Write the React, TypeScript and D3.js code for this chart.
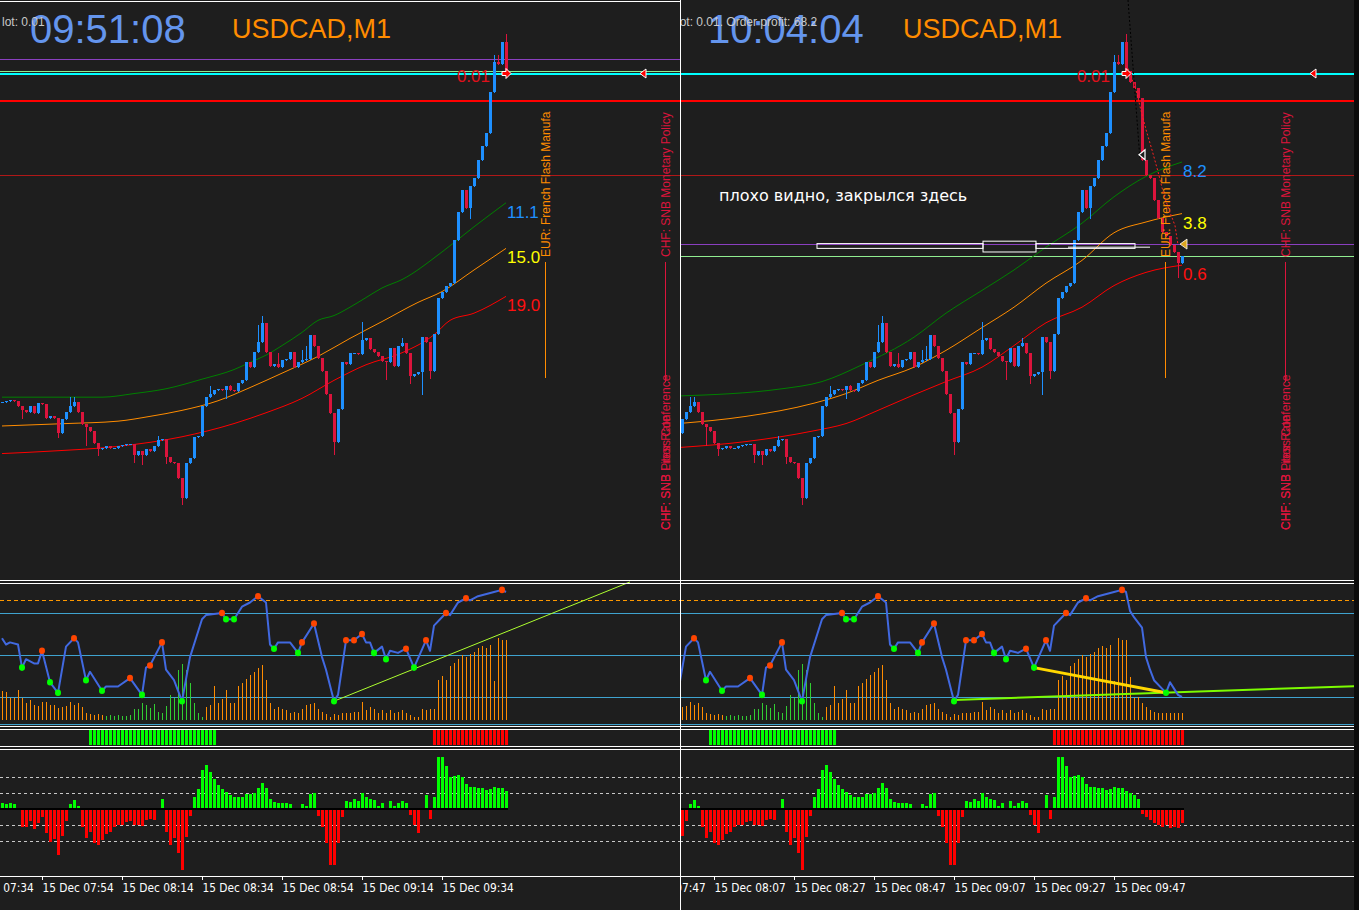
import React from "react";
import * as d3 from "d3";

// ---------------- DATA ----------------
// USDCAD M1 closes, bar 0 = 15 Dec 07:44
const closes: number[] = [
  1.35965, 1.35966, 1.35967, 1.35966, 1.35962, 1.35958, 1.35957, 1.35962, 1.35956, 1.35964,
  1.35963, 1.35952, 1.35953, 1.35952, 1.35939, 1.35951, 1.35957, 1.35962, 1.35965, 1.35957,
  1.35947, 1.35944, 1.35941, 1.35931, 1.35926, 1.35927, 1.35928, 1.35927, 1.35927, 1.35928,
  1.35929, 1.3593, 1.3593, 1.35921, 1.35924, 1.35921, 1.35926, 1.35924, 1.35928, 1.35933,
  1.35934, 1.35919, 1.35915, 1.35914, 1.35902, 1.35885, 1.35914, 1.35918, 1.35936, 1.35937,
  1.35962, 1.35969, 1.35972, 1.35975, 1.35976, 1.35975, 1.35978, 1.35975, 1.35974, 1.35981,
  1.35983, 1.35998, 1.35994, 1.36007, 1.36015, 1.36031, 1.36007, 1.35995, 1.35997, 1.35994,
  1.36, 1.36001, 1.36007, 1.35994, 1.35998, 1.36, 1.36001, 1.36021, 1.36012, 1.36002,
  1.35991, 1.35972, 1.35956, 1.35932, 1.35959, 1.35998, 1.35997, 1.36006, 1.36006, 1.36005,
  1.36017, 1.36018, 1.36009, 1.36007, 1.36003, 1.35999, 1.35998, 1.3601, 1.35995, 1.36012,
  1.36014, 1.36006, 1.35987, 1.35988, 1.3599, 1.36019, 1.36015, 1.35991, 1.36022, 1.36052,
  1.36057, 1.36062, 1.36064, 1.361, 1.36123, 1.36142, 1.36127, 1.36145, 1.36152, 1.36167,
  1.36178, 1.36189, 1.36223, 1.36248, 1.36247, 1.36265, 1.36241, 1.36232, 1.36227, 1.36218,
  1.36167, 1.36154, 1.36152, 1.36133, 1.36118, 1.36107, 1.36103, 1.36096, 1.3609, 1.36081,
  1.36087,
];
const wickHighs: [number, number][] = [
  [17, 1.35969], [18, 1.35969], [39, 1.35937], [52, 1.35978], [64, 1.36029], [65, 1.36037],
  [69, 1.36006], [75, 1.36008], [76, 1.36012], [90, 1.36032], [123, 1.36254], [124, 1.36254],
  [126, 1.36272], [8, 1.35962], [57, 1.35979], [100, 1.36018],
];
const wickLows: [number, number][] = [
  [5, 1.35952], [14, 1.35936], [21, 1.35929], [33, 1.35915], [35, 1.35913], [41, 1.35914],
  [45, 1.3588], [56, 1.35968], [83, 1.35922], [96, 1.35984], [105, 1.35972], [107, 1.35985],
  [117, 1.36118], [139, 1.36069], [24, 1.35921], [102, 1.35981],
];

// Moving averages [bar, price] as shown in each snapshot
const leftGreenMA: [number, number][] = [[0, 1.35969], [25, 1.35969], [33, 1.35972], [41, 1.35976], [50, 1.35984], [58, 1.35992], [62, 1.35998], [66, 1.36004], [70, 1.36012], [75, 1.36023], [79, 1.36033], [83, 1.36037], [87, 1.36044], [91, 1.36052], [95, 1.3606], [100, 1.36067], [110, 1.3609], [118, 1.36111], [126, 1.36131]];
const leftOrangeMA: [number, number][] = [[0, 1.35945], [16, 1.35947], [29, 1.35949], [37, 1.35953], [45, 1.35958], [54, 1.35966], [62, 1.35977], [70, 1.35989], [79, 1.36003], [87, 1.36018], [95, 1.36032], [104, 1.36048], [110, 1.36057], [118, 1.36075], [126, 1.36093]];
const leftRedMA: [number, number][] = [[0, 1.35922], [12, 1.35924], [29, 1.35928], [45, 1.35936], [58, 1.35947], [66, 1.35956], [75, 1.35968], [83, 1.35983], [91, 1.35996], [100, 1.36006], [108, 1.36021], [112, 1.36033], [118, 1.36039], [126, 1.36053]];
const rightGreenMA: [number, number][] = [[14, 1.3597], [40, 1.35976], [50, 1.35982], [60, 1.35996], [73, 1.36019], [81, 1.36039], [90, 1.36058], [98, 1.36075], [106, 1.36094], [115, 1.36114], [123, 1.36136], [131, 1.36153], [140, 1.36165]];
const rightOrangeMA: [number, number][] = [[14, 1.35947], [31, 1.35953], [48, 1.35964], [56, 1.35972], [64, 1.35983], [73, 1.35994], [81, 1.36008], [90, 1.36027], [98, 1.36044], [106, 1.36064], [115, 1.36083], [123, 1.36106], [131, 1.36115], [140, 1.36122]];
const rightRedMA: [number, number][] = [[14, 1.35927], [31, 1.35932], [48, 1.35941], [56, 1.35947], [64, 1.35958], [73, 1.35971], [81, 1.35982], [90, 1.35994], [98, 1.36012], [106, 1.36031], [115, 1.36044], [123, 1.36062], [131, 1.36073], [140, 1.36079]];
const leftMALabels = ["11.1", "15.0", "19.0"];
const rightMALabels = ["8.2", "3.8", "0.6"];

// horizontal levels
const orderPrice = 1.36239;
const stopLine = 1.36217;
const thinRedLine = 1.36154;
const spread = 0.0001;

// oscillator line [bar, value]
const oscLine: [number, number][] = [
  [0, 58], [1, 55], [2, 56], [4, 55], [5, 44], [6, 48], [8, 46], [9, 46], [10, 52], [12, 37], [14, 32],
  [16, 54], [18, 58], [19, 56], [21, 38], [22, 42], [25, 33], [26, 35], [29, 35], [32, 39], [35, 31],
  [36, 44], [37, 45], [40, 56], [41, 43], [43, 38], [45, 28], [47, 49], [50, 67], [51, 69], [55, 70],
  [56, 67], [58, 67], [60, 73], [62, 75], [64, 78], [66, 75], [67, 55], [68, 53], [69, 56], [72, 56],
  [74, 51], [75, 56], [78, 65], [80, 49], [81, 43], [83, 28], [84, 31], [86, 57], [88, 57], [90, 60],
  [91, 56], [92, 56], [93, 51], [95, 54], [96, 48], [97, 52], [99, 51], [101, 53], [103, 44], [106, 57],
  [107, 52], [108, 64], [111, 70], [112, 69], [114, 75], [116, 77], [117, 76], [119, 78], [123, 80],
  [125, 81], [126, 80], [127, 71], [128, 68], [130, 63], [131, 49], [132, 43], [133, 38], [135, 34],
  [136, 32], [137, 37], [138, 34], [139, 31], [140, 30],
];
const oscPeaks = [10, 18, 32, 37, 40, 55, 64, 75, 78, 86, 88, 90, 101, 106, 111, 116, 125];
const oscTroughs = [5, 12, 14, 21, 25, 35, 45, 56, 58, 68, 74, 83, 93, 96, 103, 136];
const oscHist: number[] = [
  29, 28, 22, 22, 30,
  22, 17, 20, 15, 14, 18, 18, 15, 15, 12, 13, 14, 18, 15, 17, 13,
  7, 6, 5, 6, 5, 4, 5, 4, 5, 4, 4, 5,
  11, 11, 17, 15, 12, 16, 8, 7, 14, 25, 22, 50, 56, 50, 37, 17, 7, 3,
  13, 15, 34, 17, 21, 30, 17, 17, 34, 37, 41, 45, 48, 52, 55, 40,
  17, 11, 13, 11, 10, 7, 8, 7, 11, 15, 16, 17, 11, 8, 6, 3, 6, 5, 7, 7, 7, 8, 8, 18, 10, 13, 11, 7, 10, 7, 10, 7, 8, 10, 7, 5, 3, 3, 11, 10, 11, 11,
  40, 44, 40, 54, 57, 61, 65, 63, 66, 68, 72, 74, 72, 75, 39, 82, 80, 80,
  43, 22, 23, 17, 13, 10, 8, 7, 7, 7, 7, 7, 7, 7,
];
const oscHistGreenRange = [26, 50];
const leftTrend: [number, number][] = [[83, 28], [157, 84.8]];
const rightTrend: [number, number][] = [[83, 28.6], [184, 35.2]];
const rightDivergence: [number, number][] = [[103, 44], [136, 32]];

// trend strip
const stripGreen = [22, 53];
const stripRed = [108, 140];

// lower histogram
const deltaHist: number[] = [
  0.4, 0.3, 0.4, 0.3, 0,
  -1.1, -1.1, -0.75, -1.25, -0.9, -0.5, -1.5, -2.05, -1.9, -2.9, -1.7, -0.75,
  0.3, 0.55, 0.2,
  -1.1, -1.8, -1.45, -2.1, -2.25, -1.95, -1.55, -1.45, -1.1, -1, -1, -0.8, -0.75, -1, -1, -1.05, -0.7, -0.6, -0.7,
  0, 0.6,
  -1.45, -2.25, -1.8, -2.75, -3.8, -1.75, -0.45,
  0.75, 1.25, 2.45, 2.75, 2.3, 1.9, 1.5, 1.25, 1.05, 0.9, 0.75, 0.75, 0.75, 0.95, 0.95, 1, 1.3, 1.6, 1.3, 0.6, 0.45, 0.4, 0.4, 0.4, 0.3, 0.05, 0.05, 0.3, 0.2, 0.95, 1,
  -0.45, -1.1, -2.1, -3.5, -3.5, -2.1, -0.5,
  0.5, 0.45, 0.6, 0.5, 1, 0.75, 0.6, 0.55, 0.2, 0.4,
  0, 0.5, 0.2, 0.4, 0.5, 0.4,
  -0.4, -1, -1.5, 0, 0.9, -0.6,
  0.75, 3.25, 3.25, 2.7, 2, 2.05, 2.1, 2, 1.55, 1.4, 1.4, 1.3, 1.3, 1.2, 1.25, 1.4, 1.3, 1.3, 1.1,
  1.0, 0.9, 0.6, -0.3, -0.5, -0.7, -0.9, -1.0, -1.1, -1.0, -1.2, -1.1, -1.2, -0.9,
];

// time axis
const leftTickBars = [-10, 10, 30, 50, 70, 90, 110];
const leftTickLabels = ["15 Dec 07:34", "15 Dec 07:54", "15 Dec 08:14", "15 Dec 08:34", "15 Dec 08:54", "15 Dec 09:14", "15 Dec 09:34"];
const rightTickBars = [3, 23, 43, 63, 83, 103, 123];
const rightTickLabels = ["15 Dec 07:47", "15 Dec 08:07", "15 Dec 08:27", "15 Dec 08:47", "15 Dec 09:07", "15 Dec 09:27", "15 Dec 09:47"];

// news events
const eventBars = [136, 166];
const eventTitles = ["EUR: French Flash Manufa", "CHF: SNB Monetary Policy"];
const eventLowerTitles = ["CHF: SNB Press Conference", "CHF: SNB Libor Rate"];

// right snapshot annotations
const tmaDotted: [number, number][] = [[126.5, 1.36243], [128.5, 1.36225], [129.75, 1.36208], [131, 1.36192], [132.5, 1.36175], [134, 1.36157], [135.5, 1.36137], [137, 1.36123], [138.25, 1.36112], [139, 1.36096]];
const blackDotted: [number, number][] = [[126.5, 1.363], [129.5, 1.36167]];
const closeMarker: [number, number] = [130, 1.36171];
const closedBoxes: [number, number, number, number][] = [[48.75, 90.25, 1.36097, 1.36093], [90.25, 103.5, 1.36099, 1.3609], [103.5, 128.25, 1.36097, 1.36093]];
const closedLine: [number, number][] = [[111.5, 1.36094], [132, 1.36094]];
const noteText = "плохо видно, закрылся здесь";
const notePos: [number, number] = [24.25, 1.361325];

// ---------------- STYLE ----------------
const BG = "#1e1e1e";
const UP = "#1e90ff";
const DOWN = "#dc143c";
const ARIAL = "'Liberation Sans', Arial, sans-serif";
const COND = "'DejaVu Sans Condensed', 'DejaVu Sans', sans-serif";

const priceY = d3.scaleLinear().domain([1.358183, 1.363]).range([578, 0]);
const oscY = d3.scaleLinear().domain([0, 100]).range([760, 550]);
const oscHistY = d3.scaleLinear().domain([0, 100]).range([720, 620]);
const deltaY = d3.scaleLinear().domain([-4, 4]).range([873, 745]);

type Panel = {
  key: string; x0: number; width: number; first: number; last: number;
  clock: string; clockX: number; info: string; infoX: number; titleX: number;
  green: [number, number][]; orange: [number, number][]; red: [number, number][];
  maLabels: string[]; ticks: number[]; tickLabels: string[]; markerX: number;
  isRight: boolean;
};

const panels: Panel[] = [
  { key: "L", x0: 0, width: 680, first: 0, last: 126, clock: "09:51:08", clockX: 30, info: "lot: 0.01", infoX: 2, titleX: 232,
    green: leftGreenMA, orange: leftOrangeMA, red: leftRedMA, maLabels: leftMALabels, ticks: leftTickBars, tickLabels: leftTickLabels, markerX: 643, isRight: false },
  { key: "R", x0: 680, width: 674, first: 15, last: 140, clock: "10:04:04", clockX: 708, info: "lot: 0.01. Order profit: 68.2", infoX: 677, titleX: 903,
    green: rightGreenMA, orange: rightOrangeMA, red: rightRedMA, maLabels: rightMALabels, ticks: rightTickBars, tickLabels: rightTickLabels, markerX: 1313, isRight: true },
];

function renderPanel(p: Panel) {
  const xs = d3.scaleLinear().domain([p.first, p.first + 1]).range([p.x0 + 2, p.x0 + 6]);
  const bars = d3.range(p.first, p.last + 1);
  const px = (i: number) => Math.round(xs(i));
  const hiMap = new Map(wickHighs);
  const loMap = new Map(wickLows);
  const maLine = d3.line<[number, number]>().x((d) => xs(d[0])).y((d) => priceY(d[1])).curve(d3.curveMonotoneX);
  const plainLine = d3.line<[number, number]>().x((d) => xs(d[0])).y((d) => priceY(d[1]));
  const oscPath = d3.line<[number, number]>().x((d) => xs(d[0])).y((d) => oscY(d[1]));
  const oscMap = new Map(oscLine);
  const visOsc = oscLine.filter((d) => d[0] >= p.first - 1 && d[0] <= p.last);
  const bid = closes[p.last];
  const clipId = `clip${p.key}`;
  const lastX = px(p.last);
  const mas = [p.green, p.orange, p.red];
  const maColors = ["#008000", "#ff8c00", "#ff0000"];
  const maLabelColors = ["#1e90ff", "#ffff00", "#ff1010"];
  const horiz = (price: number, color: string, w: number) => (
    <line x1={p.x0} x2={p.x0 + p.width} y1={Math.round(priceY(price)) + 0.5} y2={Math.round(priceY(price)) + 0.5} stroke={color} strokeWidth={w} />
  );
  const orderX = px(126);
  const orderY = Math.round(priceY(orderPrice)) + 0.5;

  return (
    <g key={p.key} clipPath={`url(#${clipId})`}>
      <defs>
        <clipPath id={clipId}>
          <rect x={p.x0 + (p.isRight ? 1 : 0)} y={0} width={p.width - (p.isRight ? 1 : 0)} height={910} />
        </clipPath>
      </defs>
      {/* header */}
      <text x={p.clockX} y={43} fontFamily={ARIAL} fontSize={40} fill="#6495ed">{p.clock}</text>
      <text x={p.titleX} y={38} fontFamily={ARIAL} fontSize={27} fill="#ff8c00">USDCAD,M1</text>
      <text x={p.infoX} y={26} fontFamily={ARIAL} fontSize={12} fill="#c8c8c8">{p.info}</text>

      {/* horizontal levels */}
      <g shapeRendering="crispEdges">
        {horiz(thinRedLine, "#b01818", 1)}
        {horiz(stopLine, "#ff0000", 2)}
        {horiz(bid + spread, "#8a3fbf", 1)}
        {horiz(orderPrice, "#00ffff", 2)}
        {horiz(bid, "#90ee90", 1)}
      </g>

      {/* moving averages */}
      {mas.map((m, k) => (
        <path key={k} d={maLine(m) || ""} fill="none" stroke={maColors[k]} strokeWidth={1} />
      ))}

      {/* candles */}
      <g shapeRendering="crispEdges">
        {bars.map((i) => {
          const c = closes[i];
          const o = i > 0 ? closes[i - 1] : closes[0];
          const up = c >= o;
          const hi = Math.max(o, c, hiMap.get(i) ?? -Infinity);
          const lo = Math.min(o, c, loMap.get(i) ?? Infinity);
          const x = px(i);
          const yt = Math.round(priceY(Math.max(o, c)));
          const yb = Math.round(priceY(Math.min(o, c)));
          const col = up ? UP : DOWN;
          return (
            <g key={i}>
              <line x1={x + 0.5} x2={x + 0.5} y1={Math.round(priceY(hi))} y2={Math.round(priceY(lo)) + 1} stroke={col} strokeWidth={1} />
              <rect x={x - 1} y={yt} width={3} height={Math.max(1, yb - yt)} fill={col} />
            </g>
          );
        })}
      </g>

      {/* MA labels */}
      {mas.map((m, k) => (
        <text key={k} x={lastX + 1} y={priceY(m[m.length - 1][1]) + 15} fontFamily={ARIAL} fontSize={17} fill={maLabelColors[k]}>{p.maLabels[k]}</text>
      ))}

      {/* news events */}
      {eventBars.map((b, k) => {
        const x = Math.round(xs(b)) - 0.5;
        const col = k === 0 ? "#ff8c00" : "#dc143c";
        return (
          <g key={k}>
            <line x1={x} x2={x} y1={262} y2={k === 0 ? 378 : 382} stroke={col} strokeWidth={1} />
            <text transform={`translate(${x + 4},257) rotate(-90)`} fontFamily={ARIAL} fontSize={12} fill={col}>{eventTitles[k]}</text>
            {k === 1 && eventLowerTitles.map((t, j) => (
              <text key={j} transform={`translate(${x + 4},530) rotate(-90)`} fontFamily={ARIAL} fontSize={12} fill={col}>{t}</text>
            ))}
          </g>
        );
      })}

      {/* right snapshot extras */}
      {p.isRight && (
        <g>
          <path d={plainLine(blackDotted) || ""} stroke="#000" strokeWidth={1} strokeDasharray="2,2" fill="none" />
          <path d={plainLine(tmaDotted) || ""} stroke="#ff2020" strokeWidth={1} strokeDasharray="2,2" fill="none" />
          {closedBoxes.map((b, k) => (
            <rect key={k} x={xs(b[0])} y={priceY(b[2])} width={xs(b[1]) - xs(b[0])} height={priceY(b[3]) - priceY(b[2])} fill="none" stroke="#ffffff" strokeWidth={1} />
          ))}
          <path d={plainLine(closedLine) || ""} stroke="#ffffff" strokeWidth={1} fill="none" />
          <text x={xs(notePos[0])} y={priceY(notePos[1])} fontFamily="'DejaVu Sans', sans-serif" fontSize={16} fill="#ffffff">{noteText}</text>
          <path transform={`translate(${xs(closeMarker[0])},${priceY(closeMarker[1])})`} d="M-3,0 L3,-5 L3,5 Z" fill="#1e1e1e" stroke="#ffffff" strokeWidth={1.2} />
          <path transform={`translate(${lastX + 1},${priceY(bid + spread) + 0.5})`} d="M-3,0 L4,-5 L4,5 Z" fill="#daa520" stroke="#ffffff" strokeWidth={0.8} />
        </g>
      )}

      {/* order arrow and label */}
      <text x={orderX - 16} y={orderY + 8} textAnchor="end" fontFamily={ARIAL} fontSize={17} fill="#e0101b">0.01</text>
      <path transform={`translate(${orderX},${orderY})`} d="M-4,-2 L0,-2 L0,-5 L5,0 L0,5 L0,2 L-4,2 Z" fill="#ff0000" stroke="#ffffff" strokeWidth={1} />
      <path transform={`translate(${p.markerX},${orderY})`} d="M-3,0 L3,-4.5 L3,4.5 Z" fill="#ff0000" stroke="#ffffff" strokeWidth={1} />

      {/* oscillator panel */}
      <g shapeRendering="crispEdges">
        {[70, 50, 30].map((v) => (
          <line key={v} x1={p.x0} x2={p.x0 + p.width} y1={oscY(v) + 0.5} y2={oscY(v) + 0.5} stroke="#3fa3cf" strokeWidth={1} />
        ))}
        <line x1={p.x0} x2={p.x0 + p.width} y1={Math.round(oscY(76.2)) + 0.5} y2={Math.round(oscY(76.2)) + 0.5} stroke="#ff9900" strokeWidth={1} strokeDasharray="4,3" />
        {bars.map((i) => (
          <line key={i} x1={px(i) + 0.5} x2={px(i) + 0.5} y1={oscHistY(0)} y2={Math.round(oscHistY(oscHist[i]))}
            stroke={i >= oscHistGreenRange[0] && i <= oscHistGreenRange[1] ? "#32cd32" : "#ff8c00"} strokeWidth={1} />
        ))}
      </g>
      {!p.isRight && (
        <path d={oscPath(leftTrend) || ""} stroke="#adff2f" strokeWidth={1} fill="none" />
      )}
      {p.isRight && (
        <g>
          <path d={oscPath(rightTrend) || ""} stroke="#7cfc00" strokeWidth={2} fill="none" />
          <path d={oscPath(rightDivergence) || ""} stroke="#ffd700" strokeWidth={3} fill="none" />
        </g>
      )}
      <path d={oscPath(visOsc) || ""} stroke="#4169e1" strokeWidth={2} fill="none" strokeLinejoin="round" />
      {oscPeaks.filter((i) => i >= p.first && i <= p.last).map((i) => (
        <ellipse key={"p" + i} cx={xs(i)} cy={oscY(oscMap.get(i) as number)} rx={3} ry={3.3} fill="#ff4500" />
      ))}
      {oscTroughs.filter((i) => i >= p.first && i <= p.last).map((i) => (
        <ellipse key={"t" + i} cx={xs(i)} cy={oscY(oscMap.get(i) as number)} rx={3} ry={3.3} fill="#00ff00" />
      ))}

      {/* trend strip */}
      <g shapeRendering="crispEdges">
        {bars.filter((i) => i >= stripGreen[0] && i <= stripGreen[1]).map((i) => (
          <rect key={"g" + i} x={px(i) - 1} y={730} width={3} height={15} fill="#00ff00" />
        ))}
        {bars.filter((i) => i >= stripRed[0] && i <= stripRed[1]).map((i) => (
          <rect key={"r" + i} x={px(i) - 1} y={730} width={3} height={15} fill="#ff0000" />
        ))}
      </g>

      {/* lower histogram */}
      <g shapeRendering="crispEdges">
        {[2, 1, -1, -2].map((v) => (
          <line key={v} x1={p.x0} x2={p.x0 + p.width} y1={deltaY(v) + 0.5} y2={deltaY(v) + 0.5} stroke="#c8c8c8" strokeWidth={1} strokeDasharray="3,3" />
        ))}
        {bars.map((i) => {
          const v = deltaHist[i];
          if (v === 0) return null;
          const y0 = deltaY(0), y1 = Math.round(deltaY(v));
          return <rect key={i} x={px(i) - 1} y={Math.min(y0, y1)} width={3} height={Math.abs(y1 - y0)} fill={v > 0 ? "#00ff00" : "#ff0000"} />;
        })}
        <line x1={p.x0} x2={lastX + 2} y1={deltaY(0)} y2={deltaY(0)} stroke="#000000" strokeWidth={2} />
      </g>

      {/* separators */}
      <g shapeRendering="crispEdges" stroke="#ffffff" strokeWidth={1}>
        {[580.5, 583, 726.5, 729, 746.5, 749].map((y) => (
          <line key={y} x1={p.x0} x2={p.x0 + p.width} y1={y} y2={y} />
        ))}
        <line x1={p.x0} x2={p.x0 + p.width} y1={876.5} y2={876.5} />
      </g>
      <line x1={p.x0} x2={p.x0 + p.width} y1={724.5} y2={724.5} stroke="#3fa3cf" strokeWidth={1} shapeRendering="crispEdges" />

      {/* time axis */}
      {p.ticks.map((b, k) => {
        const x = px(b) + 0.5;
        return (
          <g key={k}>
            <line x1={x} x2={x} y1={876} y2={880} stroke="#ffffff" strokeWidth={1} shapeRendering="crispEdges" />
            <text x={x} y={892} fontFamily={COND} fontSize={11.8} fill="#ffffff">{p.tickLabels[k]}</text>
          </g>
        );
      })}
    </g>
  );
}

export default function App() {
  return (
    <svg width={1359} height={910} viewBox="0 0 1359 910" style={{ position: "absolute", left: 0, top: 0, display: "block" }}>
      <rect x={0} y={0} width={1359} height={910} fill={BG} />
      {panels.map((p) => renderPanel(p))}
      <rect x={1354} y={0} width={5} height={910} fill="#0c0c0c" />
      <line x1={0} x2={680} y1={1.5} y2={1.5} stroke="#ffffff" strokeWidth={1} shapeRendering="crispEdges" />
      <line x1={680.5} x2={680.5} y1={0} y2={910} stroke="#ffffff" strokeWidth={1} shapeRendering="crispEdges" />
    </svg>
  );
}
